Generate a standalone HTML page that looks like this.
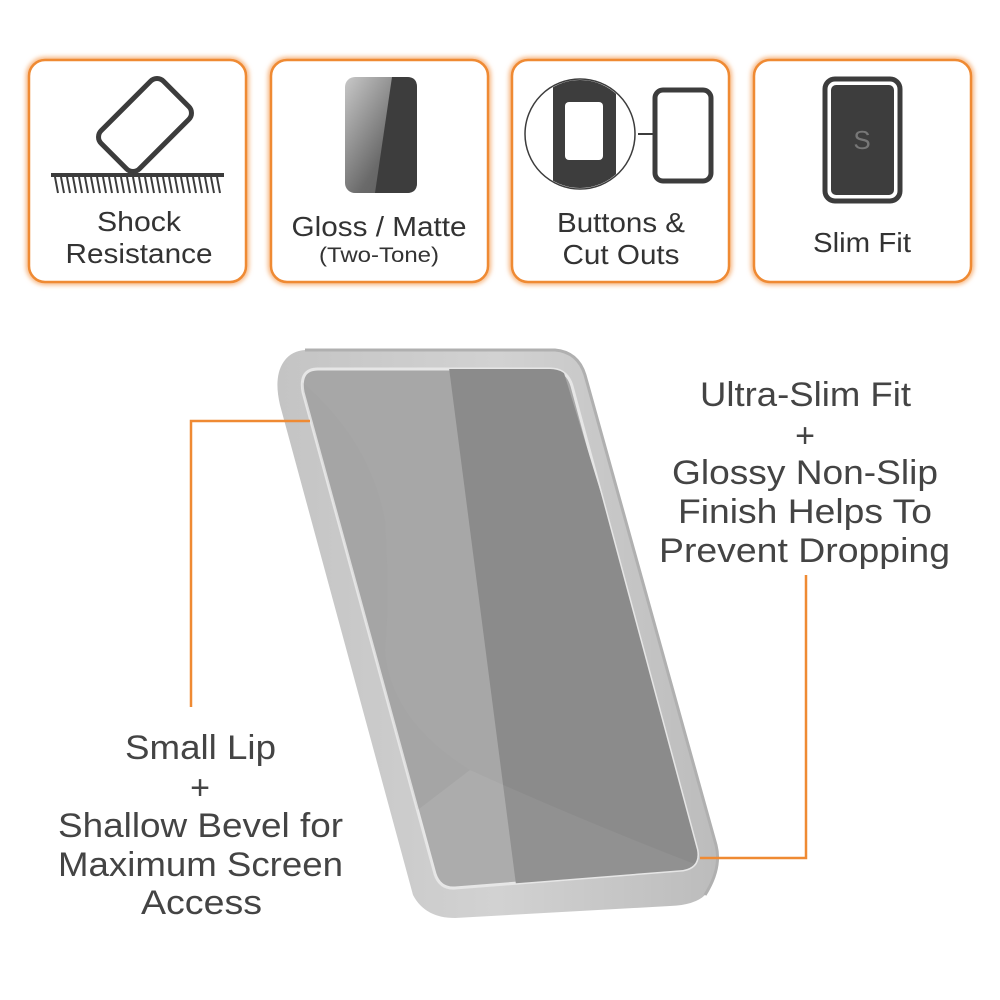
<!DOCTYPE html>
<html><head><meta charset="utf-8"><style>
html,body{margin:0;padding:0;background:#fff;}
svg{display:block;}
text{font-family:"Liberation Sans",sans-serif;}
</style></head><body>
<svg width="1000" height="1000" viewBox="0 0 1000 1000" xmlns="http://www.w3.org/2000/svg">
<defs>
<filter id="glow" x="-10%" y="-10%" width="120%" height="120%"><feGaussianBlur stdDeviation="2.5"/></filter>
<linearGradient id="gloss" x1="0" y1="0" x2="1" y2="1"><stop offset="0" stop-color="#c8c8c8"/><stop offset="0.6" stop-color="#6a6a6a"/><stop offset="1" stop-color="#555"/></linearGradient>
<linearGradient id="rim" x1="0" y1="0" x2="1" y2="0"><stop offset="0" stop-color="#c4c4c4"/><stop offset="0.5" stop-color="#d2d2d2"/><stop offset="1" stop-color="#bcbcbc"/></linearGradient>
<clipPath id="scr"><path d="M318,369 L550,369 Q567,369 572,386 L697,850 Q700,867 683,870 L455,888 Q440,889 435,874 L303,392 Q299,369 318,369 Z"/></clipPath>
<clipPath id="circ"><circle cx="580" cy="134" r="54"/></clipPath>
</defs>

<g>
<rect x="29" y="60" width="217" height="222" rx="16" fill="none" stroke="#f6b27a" stroke-width="6" filter="url(#glow)"/>
<rect x="271" y="60" width="217" height="222" rx="16" fill="none" stroke="#f6b27a" stroke-width="6" filter="url(#glow)"/>
<rect x="512" y="60" width="217" height="222" rx="16" fill="none" stroke="#f6b27a" stroke-width="6" filter="url(#glow)"/>
<rect x="754" y="60" width="217" height="222" rx="16" fill="none" stroke="#f6b27a" stroke-width="6" filter="url(#glow)"/>
<rect x="29" y="60" width="217" height="222" rx="16" fill="#fff" stroke="#ef8a33" stroke-width="2.5"/>
<rect x="271" y="60" width="217" height="222" rx="16" fill="#fff" stroke="#ef8a33" stroke-width="2.5"/>
<rect x="512" y="60" width="217" height="222" rx="16" fill="#fff" stroke="#ef8a33" stroke-width="2.5"/>
<rect x="754" y="60" width="217" height="222" rx="16" fill="#fff" stroke="#ef8a33" stroke-width="2.5"/>
</g>

<rect x="-44" y="-27" width="88" height="54" rx="9" fill="none" stroke="#3c3c3c" stroke-width="5" transform="translate(145,125) rotate(-45)"/>
<line x1="51" y1="175" x2="224" y2="175" stroke="#3c3c3c" stroke-width="4"/>
<g stroke="#3c3c3c" stroke-width="2">
<path d="M55,177 l3,16 M61,177 l3,16 M67,177 l3,16 M73,177 l3,16 M79,177 l3,16 M85,177 l3,16 M91,177 l3,16 M97,177 l3,16 M103,177 l3,16 M109,177 l3,16 M115,177 l3,16 M121,177 l3,16 M127,177 l3,16 M133,177 l3,16 M139,177 l3,16 M145,177 l3,16 M151,177 l3,16 M157,177 l3,16 M163,177 l3,16 M169,177 l3,16 M175,177 l3,16 M181,177 l3,16 M187,177 l3,16 M193,177 l3,16 M199,177 l3,16 M205,177 l3,16 M211,177 l3,16 M217,177 l3,16"/>
</g>
<text x="139" y="231" font-size="28" fill="#333" text-anchor="middle" textLength="84" lengthAdjust="spacingAndGlyphs">Shock</text>
<text x="139" y="263" font-size="28" fill="#333" text-anchor="middle" textLength="147" lengthAdjust="spacingAndGlyphs">Resistance</text>

<rect x="345" y="77" width="72" height="116" rx="10" fill="url(#gloss)"/>
<path d="M392,77 L407,77 Q417,77 417,87 L417,183 Q417,193 407,193 L375,193 Z" fill="#3d3d3d"/>
<text x="379" y="236" font-size="28" fill="#333" text-anchor="middle" textLength="175" lengthAdjust="spacingAndGlyphs">Gloss / Matte</text>
<text x="379" y="262" font-size="21" fill="#333" text-anchor="middle" textLength="120" lengthAdjust="spacingAndGlyphs">(Two-Tone)</text>

<circle cx="580" cy="134" r="55" fill="#fff" stroke="#3c3c3c" stroke-width="1.5"/>
<rect x="553" y="70" width="63" height="130" fill="#3d3d3d" clip-path="url(#circ)"/>
<rect x="565" y="102" width="38" height="58" rx="4" fill="#fff"/>
<line x1="638" y1="134" x2="656" y2="134" stroke="#3c3c3c" stroke-width="2"/>
<rect x="655" y="90" width="56" height="91" rx="8" fill="none" stroke="#3c3c3c" stroke-width="5"/>
<text x="621" y="232" font-size="28" fill="#333" text-anchor="middle" textLength="128" lengthAdjust="spacingAndGlyphs">Buttons &amp;</text>
<text x="621" y="264" font-size="28" fill="#333" text-anchor="middle" textLength="117" lengthAdjust="spacingAndGlyphs">Cut Outs</text>

<rect x="825" y="79" width="75" height="122" rx="10" fill="none" stroke="#3c3c3c" stroke-width="5"/>
<rect x="831" y="85" width="63" height="110" rx="5" fill="#3d3d3d"/>
<text x="862" y="149" font-size="26" fill="#777" text-anchor="middle">S</text>
<text x="862" y="252" font-size="28" fill="#333" text-anchor="middle" textLength="98" lengthAdjust="spacingAndGlyphs">Slim Fit</text>

<path d="M305,350 L555,350 Q578,352 585,375 L716,845 Q722,868 705,895 Q695,905 670,906 L455,918 Q425,918 413,895 L280,405 Q273,375 285,360 Q292,351 305,350 Z" fill="url(#rim)"/>
<path d="M305,350 L555,350 Q578,352 585,375 L716,845 Q722,868 705,895" fill="none" stroke="#b0b0b0" stroke-width="3"/>
<path d="M318,369 L550,369 Q567,369 572,386 L697,850 Q700,867 683,870 L455,888 Q440,889 435,874 L303,392 Q299,369 318,369 Z" fill="#a7a7a7" stroke="#e6e6e6" stroke-width="3"/>
<g clip-path="url(#scr)">
<path d="M448,360 L560,360 L720,880 L518,900 Z" fill="#8b8b8b"/>
<path d="M300,380 Q370,440 385,520 Q390,600 385,650 Q390,720 470,770 Q580,820 710,870 L300,900 Z" fill="#ffffff" fill-opacity="0.06"/>
<path d="M300,380 Q370,440 385,520 Q390,600 385,650 Q390,720 470,770 L300,900 Z" fill="#000" fill-opacity="0.04"/>
</g>

<path d="M310,421 L191,421 L191,707" fill="none" stroke="#ef8a33" stroke-width="2.5"/>
<path d="M700,858 L806,858 L806,575" fill="none" stroke="#ef8a33" stroke-width="2.5"/>

<g font-size="34" fill="#444">
<text x="700" y="406" textLength="211" lengthAdjust="spacingAndGlyphs">Ultra-Slim Fit</text>
<text x="805" y="447" text-anchor="middle">+</text>
<text x="672" y="484" textLength="266" lengthAdjust="spacingAndGlyphs">Glossy Non-Slip</text>
<text x="678" y="523" textLength="254" lengthAdjust="spacingAndGlyphs">Finish Helps To</text>
<text x="659" y="562" textLength="291" lengthAdjust="spacingAndGlyphs">Prevent Dropping</text>
</g>
<g font-size="34" fill="#444">
<text x="125" y="759" textLength="151" lengthAdjust="spacingAndGlyphs">Small Lip</text>
<text x="200" y="799" text-anchor="middle">+</text>
<text x="58" y="837" textLength="285" lengthAdjust="spacingAndGlyphs">Shallow Bevel for</text>
<text x="58" y="876" textLength="285" lengthAdjust="spacingAndGlyphs">Maximum Screen</text>
<text x="141" y="914" textLength="121" lengthAdjust="spacingAndGlyphs">Access</text>
</g>
</svg>
</body></html>
